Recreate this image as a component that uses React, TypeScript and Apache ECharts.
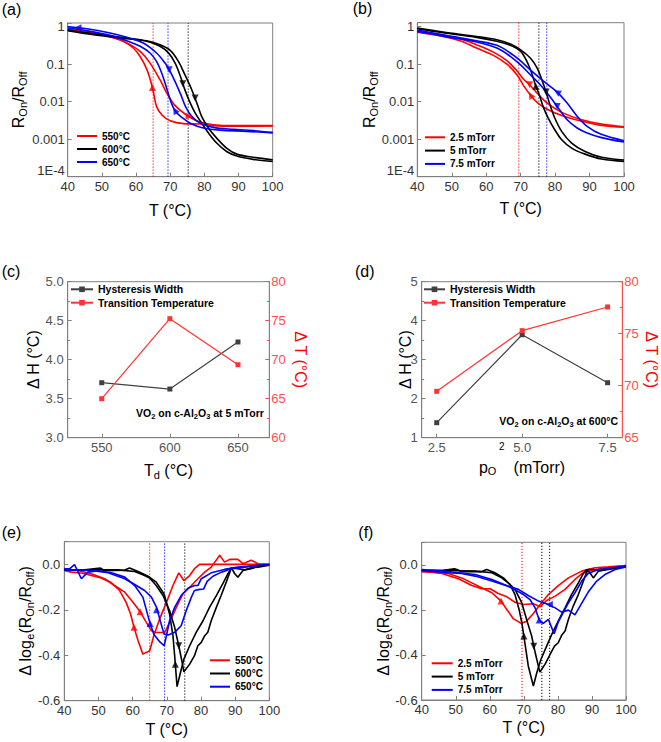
import React, { useEffect, useRef } from 'react';
import * as echarts from 'echarts';

const FONT = '"Liberation Sans", Arial, Helvetica, sans-serif';
const GRAY = '#7f7f7f';
const LABEL = '#333333';
const RED = '#ff0000';
const BLACK = '#000000';
const BLUE = '#0000ff';
const HW_COLOR = '#404040';
const TT_COLOR = '#ff3333';
const RIGHT_AXIS = '#ff4d4d';

// ---------- tick labels ----------
const logTickLabels = ['1E-4', '0.001', '0.01', '0.1', '1'];

// ---------- legends ----------
const legendTemp = ['550°C', '600°C', '650°C'];
const legendPress = ['2.5 mTorr', '5 mTorr', '7.5 mTorr'];
const legendCD = ['Hysteresis Width', 'Transition Temperature'];

// ---------- (c) & (d) ----------
const cTd = [550, 600, 650];
const cHW = [3.705, 3.624, 4.227];
const cTT = [65.0, 75.26, 69.36];
const dP = [2.5, 5.0, 7.5];
const dHW = [1.385, 3.64, 2.41];
const dTT = [69.46, 75.29, 77.57];

// ---------- axis extents ----------
const logMinA = 0.0001, logMaxA = 1.255, logMaxB = 1.279;
const dMin = -0.6, dMax = 0.1;

// ---------- (a) R_on/R_off vs T (deposition temperature) ----------
const a550Heat = [[40, 0.87], [47.5, 0.68], [52.4, 0.54], [57.3, 0.37], [61.2, 0.22], [64.1, 0.107], [67.0, 0.0386], [69.0, 0.017], [71.4, 0.008], [75.3, 0.0041], [78.7, 0.00287], [82.6, 0.00244], [88.5, 0.0023], [100, 0.0023]];
const a550Cool = [[100, 0.00225], [88.5, 0.00222], [82.6, 0.0023], [78.7, 0.00254], [73.9, 0.0026], [70.0, 0.0031], [67.5, 0.0045], [66.0, 0.0075], [65.2, 0.016], [64.3, 0.035], [63.1, 0.075], [61.2, 0.16], [59.2, 0.27], [56.3, 0.41], [52.4, 0.55], [47.5, 0.69], [40, 0.81]];
const a600Heat = [[40, 0.815], [47.5, 0.65], [57.3, 0.5], [63.1, 0.42], [67.0, 0.33], [70.0, 0.234], [72.4, 0.119], [74.3, 0.0525], [76.3, 0.0209], [77.8, 0.0092], [79.2, 0.00406], [81.2, 0.00199], [83.6, 0.00107], [86.5, 0.00058], [89.5, 0.0004], [94.3, 0.00033], [100, 0.000284]];
const a600Cool = [[100, 0.000256], [94.3, 0.00029], [89.5, 0.000356], [86.5, 0.00047], [83.6, 0.00079], [81.2, 0.00146], [79.2, 0.0027], [77.2, 0.0052], [75.6, 0.0105], [74.2, 0.022], [72.9, 0.05], [71.4, 0.108], [69.5, 0.2], [67.0, 0.3], [63.1, 0.41], [57.3, 0.48], [47.5, 0.61], [40, 0.78]];
const a650Heat = [[40, 1.0], [45.6, 0.885], [52.4, 0.678], [57.3, 0.52], [62.1, 0.367], [66.0, 0.199], [68.5, 0.107], [69.7, 0.0713], [71.4, 0.0348], [73.1, 0.0154], [74.6, 0.00706], [76.3, 0.00406], [78.7, 0.0027], [82.6, 0.00207], [88.5, 0.00183], [94.3, 0.00169], [100, 0.00152]];
const a650Cool = [[100, 0.00146], [92.4, 0.00162], [84.6, 0.00175], [79.7, 0.00199], [76.3, 0.00254], [73.4, 0.00382], [71.4, 0.00575], [70.0, 0.0113], [68.8, 0.0256], [67.5, 0.058], [66.0, 0.119], [64.1, 0.199], [61.2, 0.3], [57.3, 0.42], [52.4, 0.587], [45.6, 0.78], [40, 0.92]];
const aArrRed = [[64.8, 0.024, 0], [75.5, 0.0041, -90]];
const aArrBlk = [[73.7, 0.03, 180], [77.3, 0.0125, 180]];
const aArrBlu = [[43.0, 0.94, 90], [69.7, 0.0713, 180], [71.4, 0.0058, 30]];

// ---------- (b) R_on/R_off vs T (oxygen pressure) ----------
const b25Heat = [[40, 0.75], [47.5, 0.59], [52.4, 0.48], [57.2, 0.33], [62.1, 0.21], [66.0, 0.124], [68.9, 0.067], [71.0, 0.0386], [72.6, 0.0284], [75.0, 0.016], [78.0, 0.0087], [81.9, 0.0052], [87.7, 0.0033], [93.5, 0.00254], [100, 0.00215]];
const b25Cool = [[100, 0.0021], [93.5, 0.00234], [87.7, 0.003], [81.9, 0.0043], [78.0, 0.0061], [75.0, 0.0092], [72.9, 0.0148], [71.0, 0.0256], [68.9, 0.0525], [66.0, 0.1], [62.1, 0.172], [57.2, 0.27], [52.4, 0.42], [47.5, 0.55], [40, 0.71]];
const b5Heat = [[40, 0.92], [47.5, 0.72], [57.2, 0.55], [63.1, 0.45], [67.0, 0.345], [69.9, 0.244], [72.8, 0.146], [74.8, 0.079], [76.3, 0.035], [77.4, 0.0181], [78.5, 0.0083], [79.9, 0.00367], [81.9, 0.00162], [84.8, 0.00079], [88.7, 0.00047], [93.5, 0.00033], [100, 0.000278]];
const b5Cool = [[100, 0.000256], [93.5, 0.000296], [88.7, 0.0004], [84.8, 0.00058], [81.9, 0.00097], [79.9, 0.00179], [78.0, 0.00367], [76.5, 0.0075], [75.4, 0.0154], [74.4, 0.026], [73.2, 0.058], [71.8, 0.119], [70.0, 0.22], [67.0, 0.318], [63.1, 0.41], [57.2, 0.52], [47.5, 0.69], [40, 0.885]];
const b75Heat = [[40, 0.815], [47.5, 0.61], [57.2, 0.42], [63.1, 0.318], [67.0, 0.199], [69.9, 0.124], [72.8, 0.071], [76.7, 0.035], [80.6, 0.0181], [83.5, 0.0092], [86.4, 0.0041], [89.3, 0.0022], [93.2, 0.00137], [100, 0.00091]];
const b75Cool = [[100, 0.00084], [93.2, 0.00112], [89.3, 0.00146], [86.4, 0.00199], [83.5, 0.0033], [80.6, 0.0075], [78.2, 0.0148], [75.7, 0.0284], [72.8, 0.0525], [69.9, 0.097], [67.0, 0.162], [63.1, 0.27], [57.2, 0.39], [47.5, 0.56], [40, 0.75]];
const bArrRed = [[72.6, 0.0284, 180], [72.9, 0.0148, 30]];
const bArrBlk = [[74.4, 0.026, 0], [77.4, 0.0181, 180]];
const bArrBlu = [[80.6, 0.0181, 60], [80.6, 0.0075, 180]];

// ---------- (e) derivative, deposition temperature ----------
const e550A = [[40, -0.027], [42, -0.034], [45, -0.038], [47.9, -0.049], [50.8, -0.06], [53.8, -0.081], [56.2, -0.115], [58.1, -0.167], [59.4, -0.218], [60.4, -0.277], [61.6, -0.336], [63.0, -0.395], [65.0, -0.38], [66.2, -0.314], [67.9, -0.24], [69.9, -0.167], [71.8, -0.093], [73.5, -0.037], [75.0, -0.071], [76.7, -0.049], [78.1, -0.019], [79.6, 0], [100, 0]];
const e550B = [[40, -0.019], [44, -0.027], [47.9, -0.041], [51.8, -0.063], [54.7, -0.093], [57.7, -0.122], [60.1, -0.167], [62.2, -0.208], [64.0, -0.255], [65.5, -0.292], [66.9, -0.3], [69.4, -0.3], [70.8, -0.255], [72.8, -0.189], [74.7, -0.13], [77.2, -0.093], [79.1, -0.063], [81.1, -0.034], [83.0, -0.012], [85.5, 0.04], [86.9, 0.01], [88.4, 0.022], [90.8, 0.022], [92.3, 0.003], [94.7, 0.018], [96.7, 0.003], [100, 0]];
const e600A = [[40, -0.024], [46, -0.024], [50.6, -0.016], [51.8, -0.028], [57.7, -0.025], [59.1, -0.016], [61.6, -0.031], [64.5, -0.052], [66.9, -0.078], [69.2, -0.13], [70.8, -0.218], [71.8, -0.314], [72.3, -0.402], [73.0, -0.538], [74.0, -0.476], [75.0, -0.417], [76.7, -0.358], [78.6, -0.299], [80.6, -0.248], [82.5, -0.189], [84.5, -0.137], [86.4, -0.085], [87.9, -0.041], [88.9, -0.015], [89.9, -0.041], [90.8, -0.056], [92.3, -0.027], [94.7, -0.015], [96.7, -0.012], [100, -0.004]];
const e600B = [[40, -0.024], [47.9, -0.024], [55.7, -0.024], [60.6, -0.031], [63.0, -0.046], [65.0, -0.06], [66.9, -0.093], [68.9, -0.137], [70.8, -0.203], [72.3, -0.277], [73.5, -0.358], [74.4, -0.424], [75.0, -0.473], [76.7, -0.439], [78.1, -0.402], [79.1, -0.358], [80.1, -0.343], [81.1, -0.314], [82.0, -0.299], [83.0, -0.248], [84.5, -0.189], [85.9, -0.137], [87.4, -0.078], [88.9, -0.016], [90.8, -0.019], [92.8, -0.024], [94.7, -0.019], [96.7, -0.007], [100, -0.001]];
const e650A = [[40, -0.019], [41.6, -0.019], [43.0, -0.001], [45.0, -0.063], [46.9, -0.034], [49.9, -0.028], [53.8, -0.037], [57.7, -0.056], [60.6, -0.093], [63.0, -0.144], [65.0, -0.255], [66.2, -0.307], [67.9, -0.34], [69.2, -0.358], [69.9, -0.314], [70.8, -0.248], [72.3, -0.189], [74.2, -0.137], [76.2, -0.105], [78.1, -0.093], [79.1, -0.093], [80.1, -0.063], [83.0, -0.037], [86.9, -0.022], [90.8, -0.012], [94.7, -0.007], [100, -0.001]];
const e650B = [[40, -0.024], [44, -0.024], [47.9, -0.027], [52.8, -0.037], [57.7, -0.063], [61.1, -0.093], [63.5, -0.115], [65.5, -0.144], [67.0, -0.189], [68.2, -0.255], [69.2, -0.307], [70.4, -0.311], [72.3, -0.299], [74.2, -0.27], [75.7, -0.203], [77.2, -0.144], [78.1, -0.115], [79.6, -0.11], [80.8, -0.108], [81.8, -0.075], [83.5, -0.052], [86.0, -0.034], [88.9, -0.019], [92.8, -0.012], [96.7, -0.004], [100, -0.004]];
const eArrRed = [[60.4, -0.277, 0], [62.2, -0.208, 0]];
const eArrBlk = [[72.5, -0.44, 0], [73.5, -0.358, 180]];
const eArrBlu = [[65.1, -0.26, 0], [67.0, -0.2, 0]];

// ---------- (f) derivative, oxygen pressure ----------
const f25A = [[40, -0.03], [43.9, -0.033], [47.8, -0.038], [51.7, -0.058], [54.7, -0.08], [57.6, -0.102], [60.6, -0.124], [63.3, -0.161], [65.0, -0.198], [66.9, -0.239], [69.2, -0.26], [70.8, -0.25], [72.8, -0.216], [74.8, -0.176], [77.2, -0.132], [80.1, -0.092], [83.1, -0.058], [87.0, -0.028], [90.9, -0.013], [94.8, -0.009], [100, -0.003]];
const f25B = [[40, -0.028], [45.9, -0.038], [50.8, -0.062], [54.7, -0.092], [57.6, -0.106], [60.1, -0.106], [62.5, -0.127], [65.0, -0.142], [67.4, -0.166], [69.9, -0.176], [72.8, -0.173], [74.8, -0.186], [76.7, -0.158], [79.2, -0.139], [82.1, -0.109], [85.0, -0.065], [87.5, -0.035], [90.9, -0.021], [94.8, -0.013], [100, -0.003]];
const f5A = [[40, -0.025], [45.9, -0.025], [49.6, -0.018], [50.3, -0.021], [51.7, -0.03], [57.6, -0.03], [59.1, -0.021], [61.5, -0.035], [64.0, -0.058], [65.9, -0.087], [67.4, -0.132], [68.6, -0.198], [69.4, -0.257], [70.3, -0.346], [71.3, -0.449], [72.8, -0.538], [73.8, -0.479], [75.0, -0.42], [76.7, -0.361], [78.2, -0.309], [80.1, -0.25], [82.1, -0.191], [84.0, -0.132], [86.0, -0.08], [87.5, -0.038], [88.4, -0.021], [89.4, -0.035], [90.4, -0.058], [91.9, -0.028], [94.8, -0.018], [96.8, -0.013], [100, -0.006]];
const f5B = [[40, -0.025], [47.8, -0.025], [55.7, -0.028], [60.6, -0.035], [63.5, -0.058], [65.4, -0.08], [67.4, -0.109], [69.4, -0.169], [71.1, -0.257], [72.3, -0.316], [72.9, -0.361], [73.8, -0.42], [74.7, -0.476], [76.2, -0.442], [77.7, -0.398], [79.0, -0.361], [80.1, -0.346], [81.1, -0.313], [82.1, -0.294], [83.1, -0.242], [84.5, -0.183], [86.0, -0.132], [87.5, -0.072], [88.7, -0.021], [90.4, -0.021], [92.8, -0.025], [95.8, -0.018], [100, -0.006]];
const f75A = [[40, -0.021], [45.9, -0.027], [50.8, -0.035], [55.7, -0.043], [60.6, -0.065], [65.4, -0.095], [69.4, -0.127], [71.8, -0.154], [73.3, -0.191], [74.5, -0.245], [75.7, -0.26], [77.2, -0.242], [78.9, -0.306], [80.1, -0.254], [81.6, -0.21], [83.1, -0.169], [85.0, -0.124], [87.0, -0.072], [88.9, -0.038], [91.9, -0.021], [95.8, -0.013], [100, -0.006]];
const f75B = [[40, -0.024], [43.9, -0.03], [47.8, -0.035], [51.7, -0.038], [55.7, -0.05], [60.6, -0.072], [65.4, -0.095], [68.4, -0.109], [71.3, -0.136], [74.3, -0.161], [77.2, -0.176], [79.2, -0.191], [81.1, -0.21], [83.1, -0.201], [85.0, -0.222], [86.5, -0.183], [88.9, -0.121], [91.4, -0.072], [93.8, -0.043], [96.8, -0.021], [100, -0.009]];
const fArrRed = [[63.3, -0.161, 0]];
const fArrBlk = [[70.0, -0.316, 0], [72.9, -0.361, 180]];
const fArrBlu = [[74.5, -0.245, 0], [77.5, -0.176, 90]];

// ---------- helpers ----------
const tick = (color: string) => ({ show: true, inside: true, length: 4, lineStyle: { color, width: 1 } });
const axisLine = (color: string) => ({ show: true, onZero: false, lineStyle: { color, width: 1 } });

const richSub = (main: number, sub: number, pad: number, color = '#000') => ({
  m: { fontSize: main, fontFamily: FONT, color, verticalAlign: 'top' },
  s: { fontSize: sub, fontFamily: FONT, color, verticalAlign: 'top', padding: [pad, 0, 0, 0] },
});

function tAxis(gridIndex: number, nameGap: number) {
  return {
    type: 'value', gridIndex, min: 40, max: 100, interval: 10,
    name: 'T (°C)', nameLocation: 'middle', nameGap, nameMoveOverlap: false,
    nameTextStyle: { fontFamily: FONT, fontSize: 16, color: '#000' },
    axisLine: axisLine(GRAY), axisTick: tick(GRAY),
    axisLabel: { fontFamily: FONT, fontSize: 13, color: LABEL, margin: 3 },
    splitLine: { show: false },
  };
}

function logAxis(gridIndex: number, max: number, nameGap: number) {
  return {
    type: 'log', logBase: 10, gridIndex, min: logMinA, max,
    name: '{m|R}{s|On}{m|/R}{s|Off}', nameLocation: 'middle', nameGap, nameRotate: 90, nameMoveOverlap: false,
    nameTextStyle: { fontFamily: FONT, fontSize: 16, color: '#000', rich: richSub(16, 11, 7) },
    axisLine: axisLine(GRAY), axisTick: tick(GRAY),
    axisLabel: {
      fontFamily: FONT, fontSize: 13, color: LABEL, margin: 3,
      verticalAlignMinLabel: 'bottom',
      formatter: (v: number) => {
        const l = Math.log10(v);
        const e = Math.round(l);
        if (Math.abs(l - e) > 0.01) return '';
        return logTickLabels[e + 4] ?? '';
      },
    },
    splitLine: { show: false },
  };
}

function derivAxis(gridIndex: number, nameGap: number) {
  return {
    type: 'value', gridIndex, min: dMin, max: dMax, interval: 0.2,
    name: '{m|Δ log}{s|e}{m|(R}{s|On}{m|/R}{s|Off}{m|)}', nameLocation: 'middle', nameGap, nameRotate: 90, nameMoveOverlap: false,
    nameTextStyle: { fontFamily: FONT, fontSize: 16, color: '#000', rich: richSub(16, 11, 7) },
    axisLine: axisLine(GRAY), axisTick: tick(GRAY),
    axisLabel: {
      fontFamily: FONT, fontSize: 13, color: LABEL, margin: 4,
      formatter: (v: number) => {
        const k = Math.round(v / 0.2);
        if (Math.abs(v - k * 0.2) > 1e-6) return '';
        const r = k * 0.2;
        return Math.abs(r) < 1e-9 ? '0.0' : r.toFixed(1);
      },
    },
    splitLine: { show: false },
  };
}

// dotted vertical line at a transition temperature, spanning the y-axis extent
function V(v: number, color: string, xi: number, yi: number, y0: number, y1: number) {
  return {
    type: 'line', name: '_vline', xAxisIndex: xi, yAxisIndex: yi,
    data: [[v, y0], [v, y1]], symbol: 'none', silent: true, z: 1,
    lineStyle: { color, width: 1, type: [1.2, 1.8] }, itemStyle: { color },
  };
}

function L(name: string, data: number[][], color: string, xi: number, yi: number, smooth: boolean) {
  return {
    type: 'line', name, data, xAxisIndex: xi, yAxisIndex: yi,
    symbol: 'none', smooth: smooth ? 0.35 : false,
    lineStyle: { color, width: 1.6 }, itemStyle: { color }, z: 2, silent: true,
  };
}

function A(arr: number[][], color: string, xi: number, yi: number) {
  return {
    type: 'scatter', name: '_arrow', xAxisIndex: xi, yAxisIndex: yi, symbol: 'triangle', symbolSize: 7,
    itemStyle: { color }, z: 4, silent: true,
    data: arr.map((p) => ({ value: [p[0], p[1]], symbolRotate: p[2] })),
  };
}

function P(name: string, xs: number[], ys: number[], color: string, xi: number, yi: number) {
  return {
    type: 'line', name, xAxisIndex: xi, yAxisIndex: yi,
    data: xs.map((x, i) => [x, ys[i]]),
    symbol: 'rect', symbolSize: 5, showSymbol: true,
    lineStyle: { color, width: 1.2 }, itemStyle: { color }, z: 2, silent: true,
  };
}

function legend(data: string[], left: number, top: number, itemWidth: number, itemGap: number, lineIcon: boolean, fontSize = 10) {
  const l: any = {
    data, left, top, orient: 'vertical', itemWidth, itemHeight: lineIcon ? 2 : 7, itemGap, padding: 0,
    selectedMode: false,
    textStyle: { fontFamily: FONT, fontWeight: 'bold', fontSize, lineHeight: 12, color: '#000' },
  };
  if (lineIcon) l.icon = 'rect';
  return l;
}

function label(text: string, x: number, y: number) {
  return { type: 'text', x, y, silent: true, style: { text, fontSize: 16, fontFamily: FONT, fill: '#000', verticalAlign: 'middle' } };
}

const annRich = {
  n: { fontSize: 10.5, fontWeight: 'bold', fontFamily: FONT, fill: '#000', color: '#000', verticalAlign: 'top' },
  s: { fontSize: 7.5, fontWeight: 'bold', fontFamily: FONT, fill: '#000', color: '#000', verticalAlign: 'top', padding: [5, 0, 0, 0] },
};

function buildOption() {
  const grids = [
    { left: 67.7, top: 23, width: 205, height: 153.7 },
    { left: 417.3, top: 22.7, width: 206.7, height: 154 },
    { left: 67.7, top: 281.7, width: 201.6, height: 156 },
    { left: 421.7, top: 281.7, width: 200.6, height: 156 },
    { left: 64.3, top: 541.7, width: 205, height: 159 },
    { left: 421.7, top: 542.3, width: 204.3, height: 157.7 },
  ].map((g) => ({ ...g, show: true, borderColor: GRAY, borderWidth: 1, backgroundColor: 'transparent', containLabel: false }));

  const xAxis: any[] = [
    tAxis(0, 25.3),
    tAxis(1, 23.3),
    {
      type: 'value', gridIndex: 2, min: 525, max: 673,
      name: '{m|T}{s|d}{m| (°C)}', nameLocation: 'middle', nameGap: 24.3, nameMoveOverlap: false,
      nameTextStyle: { fontFamily: FONT, fontSize: 16, color: '#000', rich: richSub(16, 11, 7) },
      axisLine: axisLine(GRAY),
      axisTick: { ...tick(GRAY), customValues: cTd },
      axisLabel: { fontFamily: FONT, fontSize: 13, color: '#555', margin: 3, customValues: cTd, formatter: (v: number) => String(v) },
      splitLine: { show: false },
    },
    {
      type: 'value', gridIndex: 3, min: 2.06, max: 7.93,
      name: '{m|p}{s|O}{u| 2}{m|  (mTorr)}', nameLocation: 'middle', nameGap: 4, nameMoveOverlap: false,
      nameTextStyle: {
        fontFamily: FONT, fontSize: 16, color: '#000',
        rich: {
          m: { fontSize: 16, fontFamily: FONT, color: '#000', verticalAlign: 'top', padding: [18, 0, 0, 0] },
          s: { fontSize: 11, fontFamily: FONT, color: '#000', verticalAlign: 'top', padding: [24, 0, 0, 0] },
          u: { fontSize: 10, fontFamily: FONT, color: '#000', verticalAlign: 'top' },
        },
      },
      axisLine: axisLine(GRAY),
      axisTick: { ...tick(GRAY), customValues: dP },
      axisLabel: { fontFamily: FONT, fontSize: 13, color: '#555', margin: 3, customValues: dP, formatter: (v: number) => v.toFixed(1) },
      splitLine: { show: false },
    },
    tAxis(4, 20.3),
    tAxis(5, 19.7),
  ];

  const yAxis: any[] = [
    logAxis(0, logMaxA, 39.4),
    logAxis(1, logMaxB, 38),
    {
      type: 'value', gridIndex: 2, position: 'left', min: 3, max: 5, interval: 0.5,
      name: 'Δ H (°C)', nameLocation: 'middle', nameGap: 26.4, nameRotate: 90, nameMoveOverlap: false,
      nameTextStyle: { fontFamily: FONT, fontSize: 16, color: '#000' },
      axisLine: axisLine(GRAY), axisTick: tick(GRAY),
      minorTick: { show: true, splitNumber: 2, length: 2.5, lineStyle: { color: GRAY } },
      axisLabel: { fontFamily: FONT, fontSize: 13, color: '#555', margin: 4, formatter: (v: number) => v.toFixed(1) },
      splitLine: { show: false },
    },
    {
      type: 'value', gridIndex: 2, position: 'right', min: 60, max: 80, interval: 5,
      name: 'Δ T (°C)', nameLocation: 'middle', nameGap: 22.7, nameRotate: -90, nameMoveOverlap: false,
      nameTextStyle: { fontFamily: FONT, fontSize: 16, color: RED },
      axisLine: axisLine(RIGHT_AXIS), axisTick: tick(RIGHT_AXIS),
      minorTick: { show: true, splitNumber: 2, length: 2.5, lineStyle: { color: RIGHT_AXIS } },
      axisLabel: { fontFamily: FONT, fontSize: 13, color: RIGHT_AXIS, margin: 2 },
      splitLine: { show: false },
    },
    {
      type: 'value', gridIndex: 3, position: 'left', min: 1, max: 5, interval: 1,
      name: 'Δ H (°C)', nameLocation: 'middle', nameGap: 8.7, nameRotate: 90, nameMoveOverlap: false,
      nameTextStyle: { fontFamily: FONT, fontSize: 16, color: '#000' },
      axisLine: axisLine(GRAY), axisTick: tick(GRAY),
      minorTick: { show: true, splitNumber: 2, length: 2.5, lineStyle: { color: GRAY } },
      axisLabel: { fontFamily: FONT, fontSize: 13, color: '#555', margin: 4 },
      splitLine: { show: false },
    },
    {
      type: 'value', gridIndex: 3, position: 'right', min: 65, max: 80, interval: 5,
      name: 'Δ T (°C)', nameLocation: 'middle', nameGap: 21.4, nameRotate: -90, nameMoveOverlap: false,
      nameTextStyle: { fontFamily: FONT, fontSize: 16, color: RED },
      axisLine: axisLine(RIGHT_AXIS), axisTick: tick(RIGHT_AXIS),
      minorTick: { show: true, splitNumber: 2, length: 2.5, lineStyle: { color: RIGHT_AXIS } },
      axisLabel: { fontFamily: FONT, fontSize: 13, color: RIGHT_AXIS, margin: 2 },
      splitLine: { show: false },
    },
    derivAxis(4, 29.3),
    derivAxis(5, 28.4),
  ];

  const series: any[] = [
    // (a)
    V(cTT[0], RED, 0, 0, logMinA, logMaxA), V(cTT[2], BLUE, 0, 0, logMinA, logMaxA), V(cTT[1], BLACK, 0, 0, logMinA, logMaxA),
    L(legendTemp[0], a550Heat, RED, 0, 0, true),
    L(legendTemp[0], a550Cool, RED, 0, 0, true),
    L(legendTemp[1], a600Heat, BLACK, 0, 0, true),
    L(legendTemp[1], a600Cool, BLACK, 0, 0, true),
    L(legendTemp[2], a650Heat, BLUE, 0, 0, true),
    L(legendTemp[2], a650Cool, BLUE, 0, 0, true),
    A(aArrRed, RED, 0, 0), A(aArrBlk, BLACK, 0, 0), A(aArrBlu, BLUE, 0, 0),
    // (b)
    V(dTT[0], RED, 1, 1, logMinA, logMaxB), V(dTT[1], BLACK, 1, 1, logMinA, logMaxB), V(dTT[2], BLUE, 1, 1, logMinA, logMaxB),
    L(legendPress[0], b25Heat, RED, 1, 1, true),
    L(legendPress[0], b25Cool, RED, 1, 1, true),
    L(legendPress[1], b5Heat, BLACK, 1, 1, true),
    L(legendPress[1], b5Cool, BLACK, 1, 1, true),
    L(legendPress[2], b75Heat, BLUE, 1, 1, true),
    L(legendPress[2], b75Cool, BLUE, 1, 1, true),
    A(bArrRed, RED, 1, 1), A(bArrBlk, BLACK, 1, 1), A(bArrBlu, BLUE, 1, 1),
    // (c)
    P(legendCD[0], cTd, cHW, HW_COLOR, 2, 2),
    P(legendCD[1], cTd, cTT, TT_COLOR, 2, 3),
    // (d)
    P(legendCD[0], dP, dHW, HW_COLOR, 3, 4),
    P(legendCD[1], dP, dTT, TT_COLOR, 3, 5),
    // (e)
    V(cTT[0], RED, 4, 6, dMin, dMax), V(cTT[2], BLUE, 4, 6, dMin, dMax), V(cTT[1], BLACK, 4, 6, dMin, dMax),
    L(legendTemp[0], e550A, RED, 4, 6, false),
    L(legendTemp[0], e550B, RED, 4, 6, false),
    L(legendTemp[1], e600A, BLACK, 4, 6, false),
    L(legendTemp[1], e600B, BLACK, 4, 6, false),
    L(legendTemp[2], e650A, BLUE, 4, 6, false),
    L(legendTemp[2], e650B, BLUE, 4, 6, false),
    A(eArrRed, RED, 4, 6), A(eArrBlk, BLACK, 4, 6), A(eArrBlu, BLUE, 4, 6),
    // (f)
    V(dTT[0], RED, 5, 7, dMin, dMax), V(dTT[1], BLACK, 5, 7, dMin, dMax), V(dTT[2], BLUE, 5, 7, dMin, dMax),
    L(legendPress[0], f25A, RED, 5, 7, false),
    L(legendPress[0], f25B, RED, 5, 7, false),
    L(legendPress[1], f5A, BLACK, 5, 7, false),
    L(legendPress[1], f5B, BLACK, 5, 7, false),
    L(legendPress[2], f75A, BLUE, 5, 7, false),
    L(legendPress[2], f75B, BLUE, 5, 7, false),
    A(fArrRed, RED, 5, 7), A(fArrBlk, BLACK, 5, 7), A(fArrBlu, BLUE, 5, 7),
  ];

  return {
    animation: false,
    backgroundColor: '#ffffff',
    textStyle: { fontFamily: FONT },
    grid: grids,
    xAxis,
    yAxis,
    legend: [
      legend(legendTemp, 77, 130, 20, 1, true),
      legend(legendPress, 425, 131.3, 20, 1.3, true),
      legend(legendCD, 70, 283.3, 22, 1.4, false, 10.5),
      legend(legendCD, 423, 283.3, 21, 1.4, false, 10.5),
      legend(legendTemp, 210, 654.3, 20, 1.2, true),
      legend(legendPress, 431.7, 657.3, 21, 1.3, true),
    ],
    graphic: [
      label('(a)', 1.7, 9.3),
      label('(b)', 352.7, 8.3),
      label('(c)', 1.7, 271.7),
      label('(d)', 355, 271.7),
      label('(e)', 1.7, 532.7),
      label('(f)', 358.3, 532.7),
      {
        type: 'text', x: 136, y: 414.3, silent: true,
        style: { text: '{n|VO}{s|2}{n| on c-Al}{s|2}{n|O}{s|3}{n| at 5 mTorr}', rich: annRich, verticalAlign: 'middle', fontFamily: FONT },
      },
      {
        type: 'text', x: 499.3, y: 421.7, silent: true,
        style: { text: '{n|VO}{s|2}{n| on c-Al}{s|2}{n|O}{s|3}{n| at 600°C}', rich: annRich, verticalAlign: 'middle', fontFamily: FONT },
      },
    ],
    series,
  };
}

export default function App() {
  const ref = useRef<HTMLDivElement>(null);
  useEffect(() => {
    if (!ref.current) return;
    const chart = echarts.init(ref.current, null, { renderer: 'svg' });
    chart.setOption(buildOption() as any);
    return () => chart.dispose();
  }, []);
  return (
    <div
      ref={ref}
      style={{ position: 'fixed', left: 0, top: 0, width: 661, height: 742, background: '#fff' }}
    />
  );
}
